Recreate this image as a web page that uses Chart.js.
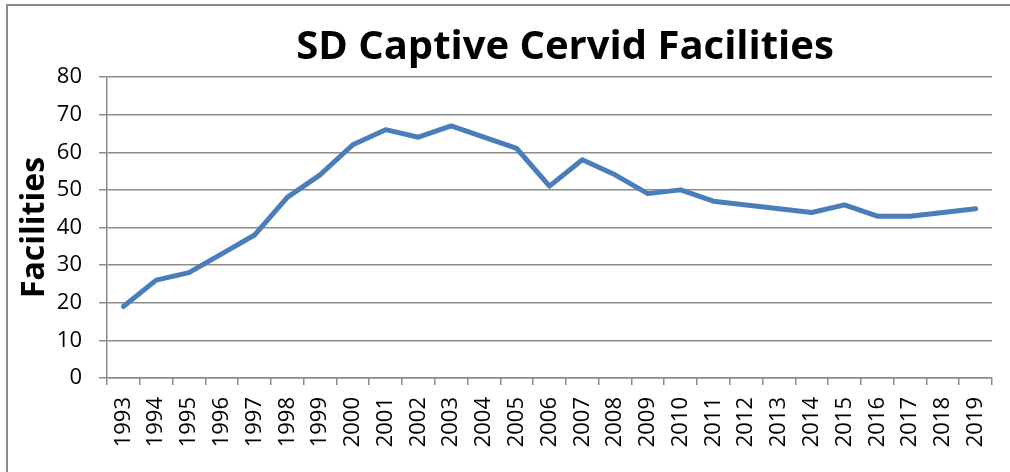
<!DOCTYPE html>
<html>
<head>
<meta charset="utf-8">
<script src="https://cdn.jsdelivr.net/npm/chart.js@4.4.1/dist/chart.umd.min.js"></script>
<style>
  html, body { margin: 0; padding: 0; width: 1010px; height: 472px; overflow: hidden; background: #fff; }
  #frame { position: absolute; left: 6px; top: 4px; width: 2000px; height: 2000px;
           border-left: 2px solid #8c8c8c; border-top: 2px solid #8c8c8c; }
  #wrap { position: absolute; left: 0; top: 0; width: 1130px; height: 472px; }
</style>
</head>
<body>
<div id="frame"></div>
<div id="wrap"><canvas id="c" width="1130" height="472"></canvas></div>
<script>
const years = ['1993','1994','1995','1996','1997','1998','1999','2000','2001','2002','2003','2004','2005','2006','2007','2008','2009','2010','2011','2012','2013','2014','2015','2016','2017','2018','2019'];
const facilities = [19, 26, 28, 33, 38, 48, 54, 62, 66, 64, 67, 64, 61, 51, 58, 54, 49, 50, 47, 46, 45, 44, 46, 43, 43, 44, 45];
const chartTitle = 'SD Captive Cervid Facilities';
const yAxisTitle = 'Facilities';

const gridColor = '#8c8c8c';
const fontFamily = "'Open Sans', sans-serif";

new Chart(document.getElementById('c'), {
  type: 'line',
  data: {
    labels: years,
    datasets: [{
      data: facilities,
      yAxisID: 'y',
      borderColor: '#4a7ebb',
      borderWidth: 5,
      pointRadius: 0,
      tension: 0,
      borderCapStyle: 'round',
      borderJoinStyle: 'round',
      fill: false
    }]
  },
  options: {
    responsive: false,
    animation: false,
    devicePixelRatio: 1,
    layout: { padding: 0 },
    plugins: {
      legend: { display: false },
      tooltip: { enabled: false },
      title: {
        display: true,
        text: chartTitle,
        color: '#000',
        font: { family: fontFamily, size: 40, weight: 'bold', lineHeight: 1.2 },
        padding: { top: 24, bottom: 5 }
      }
    },
    scales: {
      x: {
        type: 'category',
        offset: true,
        grid: { display: true, drawOnChartArea: false, drawTicks: true, tickLength: 7, offset: true, color: gridColor, lineWidth: 1.5 },
        border: { display: true, color: gridColor, width: 1.5 },
        ticks: { color: '#000', minRotation: 90, maxRotation: 90, autoSkip: false, padding: 12,
                 font: { family: fontFamily, size: 22 } },
        afterFit: (s) => { s.height = 94; }
      },
      y: {
        position: 'left',
        min: 0, max: 80,
        ticks: { stepSize: 10, color: '#000', padding: 17, font: { family: fontFamily, size: 22 } },
        grid: { color: gridColor, lineWidth: 1.5, tickLength: 8, drawTicks: true },
        border: { display: true, color: gridColor, width: 1.5 },
        title: { display: true, text: yAxisTitle, color: '#000',
                 font: { family: fontFamily, size: 32, weight: 'bold', lineHeight: 1.2 },
                 padding: { top: 16, bottom: 0 } },
        afterFit: (s) => { s.width = 107; }
      },
      spacer: {
        type: 'linear',
        position: 'right',
        display: true,
        min: 0, max: 80,
        ticks: { display: false },
        grid: { display: false, drawOnChartArea: false },
        border: { display: false },
        afterFit: (s) => { s.width = 138; }
      }
    }
  }
});
</script>
</body>
</html>
